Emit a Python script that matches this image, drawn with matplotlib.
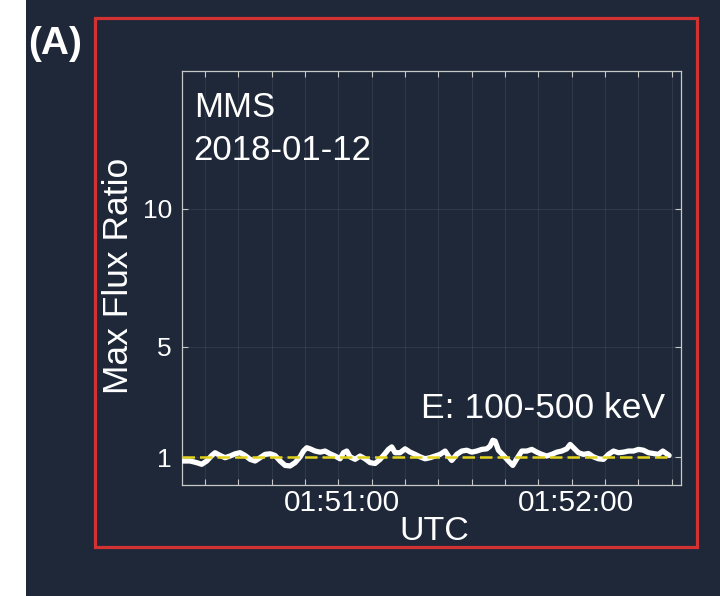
import matplotlib

matplotlib.use("Agg")
import matplotlib.pyplot as plt  # noqa: E402
import matplotlib.transforms as mtransforms  # noqa: E402
from matplotlib.patches import Rectangle  # noqa: E402

# --------------------------------------------------------------------- #
# Data: seconds after 01:50:00 UTC and the max flux ratio (read off)     #
# --------------------------------------------------------------------- #
seconds = [
    19.71, 21.85, 23.57, 24.85, 26.14, 27.43, 28.28, 29.57, 30.86, 32.14,
    33.43, 34.71, 36.00, 37.29, 38.57, 39.86, 41.14, 42.43, 43.71, 45.00,
    46.29, 47.57, 48.86, 50.14, 51.00, 51.86, 52.72, 54.00, 55.29, 56.57,
    57.86, 59.15, 60.43, 61.29, 62.15, 63.00, 64.29, 65.58, 66.86, 68.15,
    69.43, 70.72, 72.01, 72.86, 73.72, 74.58, 75.86, 77.15, 78.44, 79.72,
    81.01, 82.29, 83.58, 84.87, 86.15, 87.44, 88.29, 89.15, 90.44, 91.72,
    93.01, 94.30, 95.58, 96.87, 98.15, 99.01, 99.70, 100.30, 101.15, 102.44,
    103.73, 104.84, 105.87, 107.16, 108.44, 109.73, 111.01, 112.30, 113.58,
    114.87, 116.16, 117.44, 118.73, 119.59, 120.44, 121.73, 123.02, 124.30,
    125.59, 126.87, 128.16, 129.45, 130.73, 132.02, 133.30, 134.59, 135.87,
    137.16, 138.45, 139.73, 141.02, 142.30, 143.42, 144.44, 145.04,
]
flux_ratio = [
    0.87, 0.87, 0.81, 0.75, 0.87, 1.07, 1.17, 1.07, 0.99, 1.05,
    1.13, 1.17, 1.07, 0.93, 0.87, 0.99, 1.11, 1.13, 1.07, 0.87,
    0.71, 0.69, 0.81, 1.02, 1.23, 1.35, 1.31, 1.23, 1.19, 1.23,
    1.13, 1.05, 0.95, 1.17, 1.23, 1.02, 0.93, 1.05, 0.95, 0.81,
    0.78, 0.93, 1.14, 1.29, 1.38, 1.17, 1.17, 1.31, 1.19, 1.11,
    1.02, 0.95, 0.99, 1.05, 1.11, 1.23, 1.05, 0.89, 1.11, 1.23,
    1.26, 1.19, 1.23, 1.29, 1.31, 1.41, 1.62, 1.59, 1.26, 1.07,
    0.87, 0.71, 0.95, 1.23, 1.23, 1.29, 1.19, 1.11, 1.05, 1.11,
    1.19, 1.23, 1.31, 1.47, 1.35, 1.17, 1.11, 1.14, 1.02, 0.95,
    0.93, 1.11, 1.23, 1.17, 1.19, 1.23, 1.23, 1.29, 1.26, 1.17,
    1.14, 1.11, 1.23, 1.13, 1.07,
]
baseline = 1.0

# Ticks: every 60/7 s on the time axis, two of them labelled
minor_ticks = [60 + k * 60 / 7 for k in range(-4, 11)]
major_ticks = [60, 120]
major_labels = ["01:51:00", "01:52:00"]
y_ticks = [1, 5, 10]

BG = "#1e2839"
FG = "white"
FONT = ["Liberation Sans", "DejaVu Sans"]
plt.rcParams["font.family"] = FONT

fig = plt.figure(figsize=(7.2, 5.96), dpi=100, facecolor=BG)

# white strip on the left edge of the original slide
fig.patches.append(Rectangle((0, 0), 26 / 720, 1, transform=fig.transFigure,
                             facecolor="white", edgecolor="none", zorder=0))
# red frame around the panel
fig.patches.append(Rectangle((95 / 720, 1 - 547 / 596), 602 / 720, 529 / 596,
                             transform=fig.transFigure, fill=False,
                             edgecolor="#d23232", linewidth=2.3, zorder=1))

ax = fig.add_axes([181.7 / 720, 1 - 485 / 596, 499.3 / 720, 414 / 596])
ax.set_facecolor(BG)

ax.plot(seconds, flux_ratio, color="white", linewidth=3.8,
        solid_joinstyle="round", solid_capstyle="round", zorder=3)
ax.plot([seconds[0], seconds[-1]], [baseline, baseline], color="#e3d21c",
        linewidth=1.8, dashes=(5, 2), zorder=4)

ax.set_xlim(19.7, 148.1)
ax.set_ylim(0, 15)

ax.set_xticks(major_ticks)
ax.set_xticklabels(major_labels)
ax.set_xticks(minor_ticks, minor=True)
ax.set_yticks(y_ticks)
ax.grid(True, which="both", color="white", alpha=0.08, linewidth=0.8)

ax.tick_params(which="both", direction="in", top=True, right=True,
               color="#c8c8c8", length=4, width=0.8)
ax.tick_params(axis="x", labelsize=21.5, labelcolor=FG, pad=3)
ax.tick_params(axis="y", labelsize=19, labelcolor=FG, pad=7)
for sp in ax.spines.values():
    sp.set_color("#c8c8c8")
    sp.set_linewidth(0.9)

# time labels sit a few pixels right of their ticks in the original
shift = mtransforms.ScaledTranslation(4 / 100, 0, fig.dpi_scale_trans)
for lbl in ax.get_xticklabels():
    lbl.set_transform(lbl.get_transform() + shift)

ax.text(0.024, 0.889, "MMS", transform=ax.transAxes, color=FG,
        fontsize=25, va="baseline", ha="left")
ax.text(0.024, 0.785, "2018-01-12", transform=ax.transAxes, color=FG,
        fontsize=25, va="baseline", ha="left")
ax.text(0.968, 0.162, "E: 100-500 keV", transform=ax.transAxes, color=FG,
        fontsize=25.5, va="baseline", ha="right")
ax.text(-0.1256, 0.505, "Max Flux Ratio", transform=ax.transAxes, color=FG,
        fontsize=25.5, rotation=90, va="center", ha="center")
ax.text(0.505, -0.112, "UTC", transform=ax.transAxes, color=FG,
        fontsize=24.5, va="center", ha="center")

fig.text(28 / 720, 1 - 44 / 596, "(A)", color=FG, fontsize=28,
         fontweight="bold", va="center", ha="left")

fig.savefig("out.png", dpi=100, facecolor=BG)
